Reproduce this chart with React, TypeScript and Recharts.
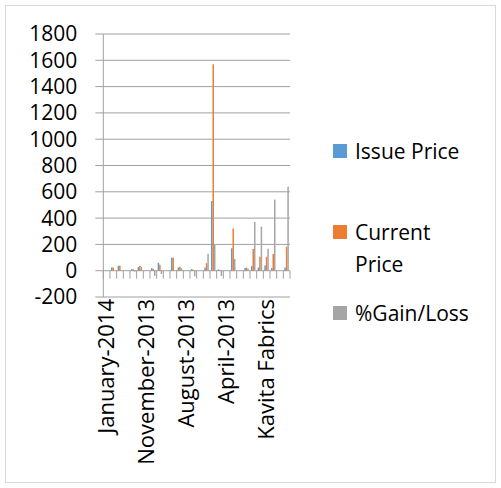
import React from 'react'
import { BarChart, Bar, XAxis, YAxis, CartesianGrid } from 'recharts'

// categorias (meses + empresas), só algumas aparecem no eixo
const categories = [
  'January-2014', 'Company 1', 'Company 2', 'December-2013', 'Company 3', 'Company 4',
  'November-2013', 'Company 5', 'Company 6', 'October-2013', 'Company 7', 'Company 8',
  'August-2013', 'Company 9', 'July-2013', 'Company 10', 'Company 11', 'Company 12',
  'April-2013', 'Company 13', 'March-2013', 'Company 14', 'Company 15', 'Company 16',
  'Kavita Fabrics', 'Company 17', 'February-2013', 'Company 18',
]

const issuePrice = [
  null, 25, 38, null, 12, 28,
  null, 20, 61, null, 99, 25,
  null, 12, null, 25, 530, 10,
  null, 170, null, 20, 35, 24,
  40, 20, null, 25,
]

const currentPrice = [
  null, 25, 38, null, 11, 38,
  null, 12, 46, null, 99, 30,
  null, 7, null, 57, 1570, 6,
  null, 321, null, 23, 165, 106,
  106, 127, null, 182,
]

const gainLoss = [
  null, 1, 1, null, -8, 30,
  null, -40, -25, null, 0, 20,
  null, -43, null, 128, 196, -40,
  null, 89, null, 15, 371, 335,
  167, 541, null, 638,
]

const yTicks = [-200, 0, 200, 400, 600, 800, 1000, 1200, 1400, 1600, 1800]

const seriesNames = ['Issue Price', 'Current Price', '%Gain/Loss']
const seriesKeys = ['issue', 'current', 'gain']
const seriesColors = ['#5b9bd5', '#ed7d31', '#a5a5a5']

const data = categories.map((name, i) => ({
  name,
  issue: issuePrice[i],
  current: currentPrice[i],
  gain: gainLoss[i],
}))

const W = 501
const H = 488
const MARGIN = { top: 34, right: 211, bottom: 41, left: 8 }
const Y_AXIS_W = 95.3
const X_AXIS_H = 150
const PLOT_W = W - MARGIN.left - MARGIN.right - Y_AXIS_W
const PLOT_H = H - MARGIN.top - MARGIN.bottom - X_AXIS_H
const BAND = PLOT_W / categories.length
const Y_MIN = yTicks[0]
const Y_MAX = yTicks[yTicks.length - 1]
const ZERO_Y = MARGIN.top + (PLOT_H * Y_MAX) / (Y_MAX - Y_MIN)
const LABEL_STEP = 6

const GRID = '#a0a0a0'
const FONT = '"Open Sans", sans-serif'
const FONT_SIZE = 21

const CategoryTick = (props: any) => {
  const { x, y, payload, index } = props
  const left = x - BAND / 2
  const last = index === categories.length - 1
  return (
    <g>
      <line x1={left} x2={left} y1={ZERO_Y} y2={ZERO_Y + 8} stroke={GRID} />
      {last && (
        <line x1={x + BAND / 2} x2={x + BAND / 2} y1={ZERO_Y} y2={ZERO_Y + 8} stroke={GRID} />
      )}
      {index % LABEL_STEP === 0 && (
        <text
          x={x}
          y={y + 2}
          dy="0.35em"
          textAnchor="end"
          transform={`rotate(-90, ${x}, ${y + 2})`}
          fontSize={22}
          fill="#000"
        >
          {payload.value}
        </text>
      )}
    </g>
  )
}

const App: React.FC = () => {
  return (
    <div
      style={{
        position: 'absolute',
        left: 0,
        top: 0,
        width: W,
        height: H,
        fontFamily: FONT,
        background: '#fff',
      }}
    >
      <div
        style={{
          position: 'absolute',
          left: 5,
          top: 5,
          width: 489,
          height: 476,
          border: '1px solid #d9d9d9',
        }}
      />
      <BarChart
        width={W}
        height={H}
        data={data}
        margin={MARGIN}
        barGap={0}
        style={{ position: 'absolute', left: 0, top: 0 }}
      >
        <CartesianGrid horizontal vertical={false} stroke={GRID} />
        <XAxis
          dataKey="name"
          interval={0}
          height={X_AXIS_H}
          axisLine={false}
          tickLine={false}
          tickSize={0}
          tickMargin={0}
          tick={<CategoryTick />}
        />
        <YAxis
          width={Y_AXIS_W}
          domain={[Y_MIN, Y_MAX]}
          ticks={yTicks}
          interval={0}
          stroke={GRID}
          tickSize={8}
          tickMargin={18}
          tick={{ fill: '#000', fontSize: FONT_SIZE }}
        />
        {seriesKeys.map((k, i) => (
          <Bar
            key={k}
            dataKey={k}
            name={seriesNames[i]}
            fill={seriesColors[i]}
            barSize={1.5}
            isAnimationActive={false}
          />
        ))}
      </BarChart>
      <div style={{ position: 'absolute', left: 333, top: 135, width: 165 }}>
        {seriesNames.map((n, i) => (
          <div key={n} style={{ height: 81, display: 'flex', alignItems: 'flex-start' }}>
            <div
              style={{
                width: 14,
                height: 14,
                marginTop: 9,
                background: seriesColors[i],
                flex: '0 0 auto',
              }}
            />
            <div
              style={{
                marginLeft: 8,
                width: 121,
                fontSize: FONT_SIZE,
                lineHeight: '32px',
                color: '#000',
              }}
            >
              {n}
            </div>
          </div>
        ))}
      </div>
    </div>
  )
}

export default App
